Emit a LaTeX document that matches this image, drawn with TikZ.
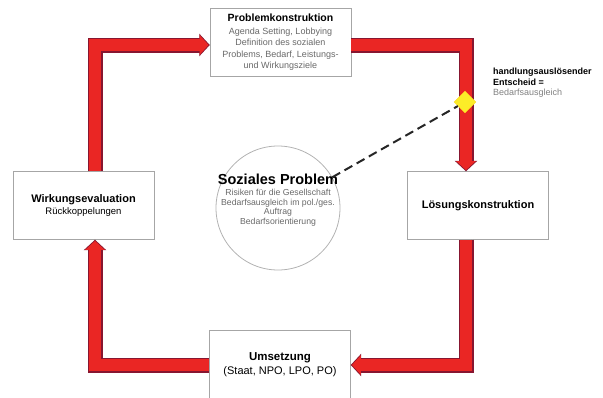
\documentclass[tikz,border=0pt]{standalone}
\usepackage{fontspec}
\setmainfont{Liberation Sans}
\usetikzlibrary{arrows.meta,shapes.geometric}
\definecolor{bandred}{RGB}{234,38,36}
\definecolor{banddark}{RGB}{135,22,48}
\definecolor{entyellow}{RGB}{252,236,40}
\definecolor{subgray}{RGB}{105,105,105}
\tikzstyle{box}=[draw=gray!70,fill=white,minimum width=141pt,minimum height=68pt,align=center,inner sep=2pt]
\tikzstyle{band}=[draw=bandred,line width=12.5pt,line join=miter,-{Triangle[width=19pt,length=9pt]},shorten >=1.2pt,
  preaction={draw=banddark,line width=15pt,-{Triangle[width=22pt,length=10.5pt]},shorten >=0pt}]
\tikzstyle{dashline}=[draw=black!85,line width=2pt,dash pattern=on 9pt off 5pt]
\newcommand{\boxtitle}[2]{{\bfseries\fontsize{#1}{#1}\selectfont\color{black}#2}}

\begin{document}
\begin{tikzpicture}[x=1pt,y=-1pt]
        \useasboundingbox (0,0) rectangle (603,397);
        % Kreislauf
        \node[box,font=\fontsize{9}{11.5}\selectfont,text=subgray] (prob) at (280.5,42.5) {\boxtitle{10.5}{Problemkonstruktion}\\[1pt]
          Agenda Setting, Lobbying\\ Definition des sozialen\\ Problems, Bedarf, Leistungs-\\ und Wirkungsziele};
        \node[box,font=\fontsize{11}{13}\selectfont\bfseries] (loes) at (478,205.5) {Lösungskonstruktion};
        \node[box,font=\fontsize{9.5}{12}\selectfont] (wirk) at (83.5,205.5) {\boxtitle{11}{Wirkungsevaluation}\\
          Rückkoppelungen};
        \node[box,font=\fontsize{11}{14}\selectfont] (ums) at (280,364.5) {\boxtitle{11.5}{Umsetzung}\\
          (Staat, NPO, LPO, PO)};
        \coordinate (lt) at (95,45);
        \coordinate (rt) at (466,45);
        \coordinate (rb) at (466,365);
        \coordinate (lb) at (95,365);
        \draw[band] (wirk.north -| lt) -- (lt) -- (lt -| prob.west);
        \draw[band] (prob.east |- rt) -- (rt) -- (rt |- loes.north);
        \draw[band] (loes.south -| rb) -- (rb) -- (rb -| ums.east);
        \draw[band] (ums.west |- lb) -- (lb) -- (lb |- wirk.south);
        % Soziales Problem
        \node[circle,draw=gray!60,line width=0.8pt,minimum size=124pt,inner sep=0pt] (soz) at (278,208) {};
        \node[align=center,inner sep=0pt,font=\fontsize{8.7}{9.5}\selectfont,text=subgray] (soztext) at ([yshift=8pt]soz.center)
          {\boxtitle{14.5}{Soziales Problem}\\[2pt]
          Risiken für die Gesellschaft\\ Bedarfsausgleich im pol./ges.\\ Auftrag\\ Bedarfsorientierung};
        \node[diamond,fill=entyellow,draw=entyellow!80!orange,minimum size=22pt,inner sep=0pt] (ent) at (465,102) {};
        \draw[dashline] (soz) -- (ent);
        \node[anchor=north west,align=left,inner sep=0pt,font=\fontsize{9}{10.5}\selectfont] (enttext) at (493,68)
          {\textbf{handlungsauslösender}\\ \textbf{Entscheid =}\\ \textcolor{gray}{Bedarfsausgleich}};
      \end{tikzpicture}
\end{document}
